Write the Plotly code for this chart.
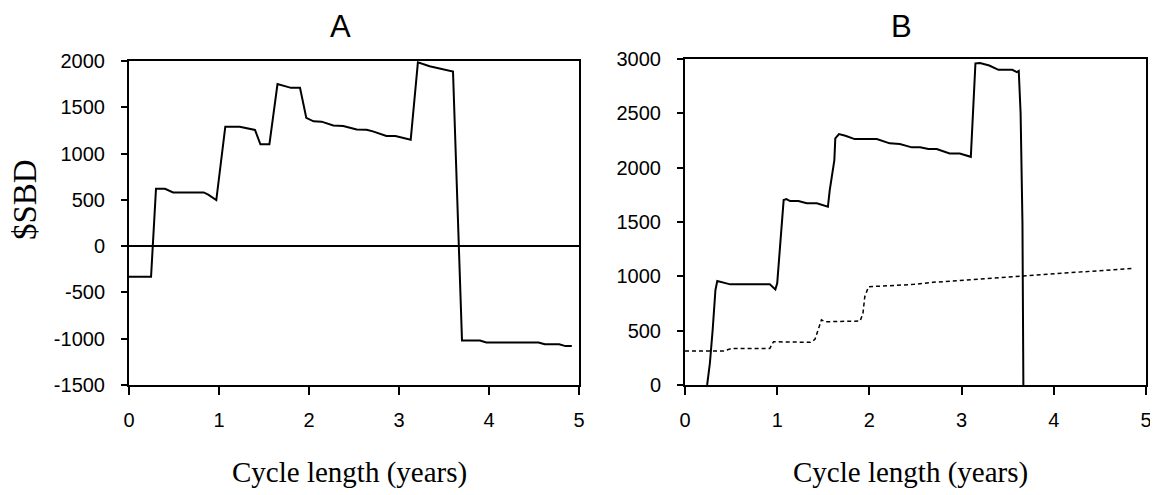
import plotly.graph_objects as go

# Panel A: net benefit vs cycle length
a_x = [0, 0.245, 0.30, 0.40, 0.49, 0.83, 0.88, 0.97, 1.07, 1.23, 1.40, 1.46, 1.56, 1.65, 1.80, 1.90,
       1.97, 2.05, 2.14, 2.27, 2.38, 2.53, 2.64, 2.71, 2.86, 2.96, 3.13, 3.21, 3.34, 3.60, 3.70,
       3.90, 3.97, 4.55, 4.62, 4.78, 4.85, 4.92]
a_y = [-330, -330, 620, 620, 580, 580, 556, 498, 1290, 1290, 1255, 1100, 1100, 1750, 1710, 1710,
       1385, 1348, 1345, 1304, 1297, 1261, 1257, 1240, 1190, 1189, 1149, 1985, 1944, 1886, -1020,
       -1020, -1040, -1040, -1060, -1060, -1080, -1080]

# Panel B: solid series
b_x = [0.24, 0.27, 0.30, 0.33, 0.35, 0.38, 0.49, 0.92, 0.98, 1.00, 1.05, 1.07, 1.10, 1.14, 1.23,
       1.32, 1.43, 1.50, 1.55, 1.57, 1.62, 1.63, 1.67, 1.74, 1.84, 2.08, 2.22, 2.33, 2.46, 2.55,
       2.64, 2.73, 2.87, 2.98, 3.10, 3.15, 3.20, 3.30, 3.40, 3.55, 3.60, 3.62, 3.64, 3.66, 3.67]
b_y = [0, 200, 506, 874, 957, 950, 926, 926, 880, 936, 1457, 1702, 1711, 1693, 1693,
       1672, 1672, 1656, 1641, 1794, 2070, 2270, 2309, 2294, 2263, 2263, 2224, 2217, 2187, 2187,
       2171, 2171, 2131, 2131, 2100, 2960, 2962, 2940, 2900, 2900, 2880, 2890, 2500, 1500, 0]

# Panel B: dashed series
d_x = [0, 0.42, 0.51, 0.92, 0.96, 1.36, 1.41, 1.48, 1.52, 1.90, 1.93, 1.95, 1.99, 2.12, 2.48,
       2.69, 2.98, 3.05, 3.65, 4.28, 4.86]
d_y = [313, 313, 337, 337, 398, 393, 420, 600, 582, 589, 660, 812, 904, 911, 926,
       945, 957, 966, 1003, 1043, 1073]

x_ticks = [0, 1, 2, 3, 4, 5]
a_ticks = [-1500, -1000, -500, 0, 500, 1000, 1500, 2000]
b_ticks = [0, 500, 1000, 1500, 2000, 2500, 3000]

# page body has an 8px margin; lay out in window pixel coordinates
OFF = 8
W, H = 1158 - OFF, 495 - OFF


def px(v):
    return (v - OFF) / W


def py(v):
    return 1 - (v - OFF) / H


fig = go.Figure()
fig.add_trace(go.Scatter(x=a_x, y=a_y, mode="lines", line=dict(color="black", width=2),
                         xaxis="x", yaxis="y", showlegend=False))
fig.add_trace(go.Scatter(x=b_x, y=b_y, mode="lines", line=dict(color="black", width=2),
                         xaxis="x2", yaxis="y2", showlegend=False))
fig.add_trace(go.Scatter(x=d_x, y=d_y, mode="lines",
                         line=dict(color="black", width=1.5, dash="4px,3px"),
                         xaxis="x2", yaxis="y2", showlegend=False))

tickfont = dict(family="Liberation Sans, Arial, sans-serif", size=20, color="black")
common_x = dict(range=[0, 5], tickvals=x_ticks, ticktext=[str(v) for v in x_ticks],
                ticks="outside", ticklen=8, tickwidth=1.5,
                tickcolor="black", showline=True, linecolor="black", linewidth=2, mirror=True,
                showgrid=False, zeroline=False, tickfont=tickfont, ticklabelstandoff=8,
                ticklabeloverflow="allow", fixedrange=True, automargin=False)
common_y = dict(ticks="outside", ticklen=6, tickwidth=1.5, tickcolor="black", showline=True,
                linecolor="black", linewidth=2, mirror=True, showgrid=False,
                tickfont=tickfont, ticklabelstandoff=12, fixedrange=True, automargin=False)

fig.update_layout(
    template="none",
    width=W, height=H,
    margin=dict(l=0, r=0, t=0, b=0),
    paper_bgcolor="white", plot_bgcolor="white",
    xaxis=dict(domain=[px(129), px(579)], anchor="y", **common_x),
    yaxis=dict(domain=[py(385), py(61)], anchor="x", range=[-1500, 2000],
               tickvals=a_ticks, ticktext=[str(v) for v in a_ticks],
               zeroline=True, zerolinecolor="black", zerolinewidth=2, **common_y),
    xaxis2=dict(domain=[px(685), px(1146)], anchor="y2", **common_x),
    yaxis2=dict(domain=[py(385), py(59)], anchor="x2", range=[0, 3000],
                tickvals=b_ticks, ticktext=[str(v) for v in b_ticks],
                zeroline=False, **common_y),
)

serif = dict(family="Liberation Serif, Times New Roman, serif", size=29, color="black")
serif_y = dict(family="Liberation Serif, Times New Roman, serif", size=33, color="black")
sans_title = dict(family="Liberation Sans, Arial, sans-serif", size=31, color="black")
ann = [
    dict(text="A", x=px(340), y=py(27), font=sans_title),
    dict(text="B", x=px(901), y=py(27), font=sans_title),
    dict(text="Cycle length (years)", x=px(349), y=py(472), font=serif),
    dict(text="Cycle length (years)", x=px(910), y=py(472), font=serif),
    dict(text="$SBD", x=px(25), y=py(200), font=serif_y, textangle=-90),
]
for a in ann:
    fig.add_annotation(xref="paper", yref="paper", showarrow=False,
                       xanchor="center", yanchor="middle", **a)

fig.write_html("out.html")
